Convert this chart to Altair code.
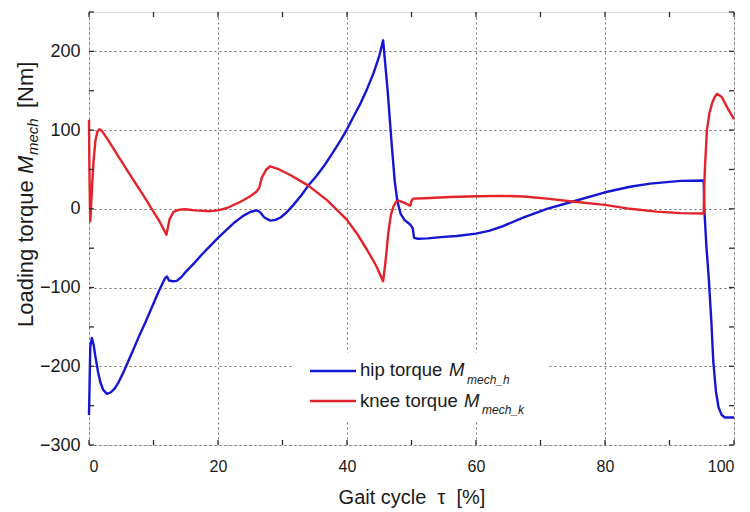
import altair as alt
import pandas as pd

# ---------------- data ----------------
hip_x = [0, 0.2, 0.45, 0.7, 1.0, 1.4, 1.75, 2.2, 2.8, 3.4, 4.0, 4.6, 5.2, 5.8, 6.6, 7.7, 8.8,
         9.8, 10.8, 11.8, 12.1, 12.4, 13.0, 13.6, 14.3, 15.0, 16.2, 17.5, 18.8, 20.0, 21.4,
         22.6, 23.9, 25.0, 26.0, 26.5, 27.2, 28.1, 28.9, 29.7, 30.7, 31.7, 32.9, 34.0, 35.2,
         36.4, 37.7, 39.0, 40.0, 41.0, 42.1, 43.1, 44.1, 45.0, 45.6, 46.3, 46.9, 47.4, 47.8,
         48.3, 48.9, 49.5, 49.9, 50.2, 50.4, 51.0, 52.5, 54.5, 57.0, 60.0, 62.0, 64.0, 67.4,
         71.0, 74.9, 80.0, 83.9, 87.0, 91.7, 95.3, 95.4, 95.7, 96.1, 96.5, 96.8, 97.2, 97.6,
         98.1, 98.6, 100]
hip_y = [-262, -175, -164, -172, -188, -207, -220, -230, -235, -233, -228, -220, -210, -199,
         -184, -163, -143, -124, -105, -88, -86, -91, -92, -91.5, -87, -80, -70, -58, -47, -37,
         -26, -17, -9, -4, -2, -4, -11, -15, -14, -11, -4, 5, 17, 29.5, 41, 54, 70, 87, 101,
         117, 134, 152, 172, 194, 214, 150, 85, 35, 10, -6, -14, -18, -21, -25, -37, -38,
         -37.5, -36, -34.5, -31.5, -28, -22.5, -11, 0, 9, 21, 28, 32, 35.5, 36, 0, -45, -90,
         -145, -195, -232, -252, -262, -265, -265]

knee_x = [0, 0.05, 0.15, 0.2, 0.3, 0.45, 0.7, 1.0, 1.3, 1.6, 2.0, 3.0, 4.6, 6.0, 7.2, 8.5,
          9.8, 11.0, 12.0, 12.2, 12.5, 13.1, 14.0, 14.9, 16.5, 18.8, 20.0, 21.4, 23.5, 25.0,
          26.0, 26.4, 26.8, 27.5, 28.1, 29.5, 31.2, 34.0, 36.9, 40.0, 41.5, 43.1, 44.5, 45.6,
          46.0, 46.4, 46.8, 47.2, 47.6, 48.0, 48.8, 49.8, 50.0, 50.3, 52.0, 56.0, 60.2, 64.0,
          67.4, 71.0, 75.3, 80.0, 83.9, 88.0, 91.7, 95.3, 95.4, 95.5, 95.8, 96.2, 96.6, 97.0,
          97.4, 98.1, 99.0, 100]
knee_y = [113, 60, 0, -16, 0, 24, 60, 87, 98, 101, 99, 87, 66, 48, 32.5, 16, -1, -17, -33,
          -25, -13, -4, -1, -0.5, -2, -3, -2, 1, 9, 16, 22, 27, 40, 50, 54, 50, 43, 29.5, 11,
          -14, -31, -52, -72, -92, -65, -31, -8, 3, 9, 10.5, 8, 4, 10, 13, 13.5, 15, 16, 16.5,
          15.6, 13, 9, 5, 0, -3.5, -5.5, -6, 30, 53, 100, 122, 134, 142, 146, 142, 128, 114]

series_names = ["hip", "knee"]
series_colors = ["#1515d4", "#e3222a"]

x_major = [0, 20, 40, 60, 80, 100]
y_major = [-300, -200, -100, 0, 100, 200]
x_tick_pos = list(range(0, 101, 10))
y_tick_pos = list(range(-300, 251, 50))

NB = "\u00a0"
x_title = "Gait cycle" + NB + NB + "τ" + NB + NB + "[%]"
y_title_parts = ["Loading torque", "M", "mech", "[Nm]"]
legend_main = ["hip torque", "knee torque"]
legend_sub = ["mech_h", "mech_k"]

# ---------------- layout ----------------
W, H = 645, 433
FONT = "Liberation Sans"
INK = "#1a1a1a"
GRID = dict(grid=True, gridColor="#6e6e6e", gridDash=[2, 3], gridWidth=1)

df = pd.concat([
    pd.DataFrame({"tau": hip_x, "M": hip_y, "series": "hip", "i": range(len(hip_x))}),
    pd.DataFrame({"tau": knee_x, "M": knee_y, "series": "knee", "i": range(len(knee_x))}),
], ignore_index=True)

xs = alt.Scale(domain=[0, 100], nice=False, zero=False)
ys = alt.Scale(domain=[-300, 250], nice=False, zero=False)

xa = alt.Axis(values=x_major, ticks=False, domain=False, format="d",
              labelFontSize=16, labelPadding=13, labelColor=INK, labelFont=FONT,
              title=x_title, titleFontSize=20, titleFontWeight="normal",
              titleFont=FONT, titleColor=INK, titlePadding=13, **GRID)
ya = alt.Axis(values=y_major, ticks=False, domain=False, format="d",
              labelFontSize=18, labelPadding=9, labelColor=INK, labelFont=FONT, title=None,
              **GRID)

lines = alt.Chart(df).mark_line(strokeWidth=2.4, strokeJoin="round").encode(
    x=alt.X("tau:Q", scale=xs, axis=xa),
    y=alt.Y("M:Q", scale=ys, axis=ya),
    color=alt.Color("series:N", scale=alt.Scale(domain=series_names, range=series_colors),
                    legend=None),
    order="i:Q",
)

xt = pd.DataFrame({"tau": x_tick_pos})
yt = pd.DataFrame({"M": y_tick_pos})
tick_style = dict(color="#2b2b2b", strokeWidth=1.3)
tick_bottom = alt.Chart(xt).mark_rule(**tick_style).encode(
    x=alt.X("tau:Q", scale=xs, axis=xa), y=alt.value(H), y2=alt.value(H - 5))
tick_top = alt.Chart(xt).mark_rule(**tick_style).encode(
    x=alt.X("tau:Q", scale=xs, axis=xa), y=alt.value(0), y2=alt.value(5))
tick_left = alt.Chart(yt).mark_rule(**tick_style).encode(
    y=alt.Y("M:Q", scale=ys, axis=ya), x=alt.value(0), x2=alt.value(5))
tick_right = alt.Chart(yt).mark_rule(**tick_style).encode(
    y=alt.Y("M:Q", scale=ys, axis=ya), x=alt.value(W - 5), x2=alt.value(W))

# ---------------- y title (rich text) ----------------
def vtext(txt, x, y, size, italic=False):
    return alt.Chart(pd.DataFrame({"s": [txt]})).mark_text(
        angle=270, align="left", baseline="alphabetic", font=FONT, fontSize=size,
        fontStyle="italic" if italic else "normal", color=INK
    ).encode(text="s:N", x=alt.value(x), y=alt.value(y))

ytitle = [
    vtext(y_title_parts[0], -56, 315, 22),
    vtext(y_title_parts[1], -56, 162, 22, True),
    vtext(y_title_parts[2], -51, 143, 15, True),
    vtext(y_title_parts[3], -56, 96, 22),
]

# ---------------- legend ----------------
def htext(txt, x, y, size, italic=False):
    return alt.Chart(pd.DataFrame({"s": [txt]})).mark_text(
        align="left", baseline="alphabetic", font=FONT, fontSize=size,
        fontStyle="italic" if italic else "normal", color=INK
    ).encode(text="s:N", x=alt.value(x), y=alt.value(y))

leg_box = alt.Chart(pd.DataFrame({"a": [0]})).mark_rect(color="white").encode(
    x=alt.value(205), x2=alt.value(458), y=alt.value(341), y2=alt.value(410))
leg_lines = alt.Chart(pd.DataFrame({"series": series_names, "yy": [359, 389]})).mark_rule(
    strokeWidth=2.4).encode(
    x=alt.value(221), x2=alt.value(267), y=alt.Y("yy:Q", scale=None),
    color=alt.Color("series:N", scale=alt.Scale(domain=series_names, range=series_colors),
                    legend=None))
legend = [
    leg_box, leg_lines,
    htext(legend_main[0], 271, 364, 18.5),
    htext("M", 360, 364, 18.5, True),
    htext(legend_sub[0], 378, 372, 12, True),
    htext(legend_main[1], 271, 394.5, 18.5),
    htext("M", 375, 394.5, 18.5, True),
    htext(legend_sub[1], 393, 402, 12, True),
]

chart = alt.layer(
    lines, *legend, tick_bottom, tick_top, tick_left, tick_right, *ytitle
).properties(
    width=W, height=H,
    autosize=alt.AutoSizeParams(type="none"),
    padding={"left": 89, "top": 12, "right": 16, "bottom": 67},
).configure_view(
    stroke="#2b2b2b", strokeWidth=1.5
).configure(background="white")

chart.save("out.html", embed_options={"renderer": "svg", "actions": False})
